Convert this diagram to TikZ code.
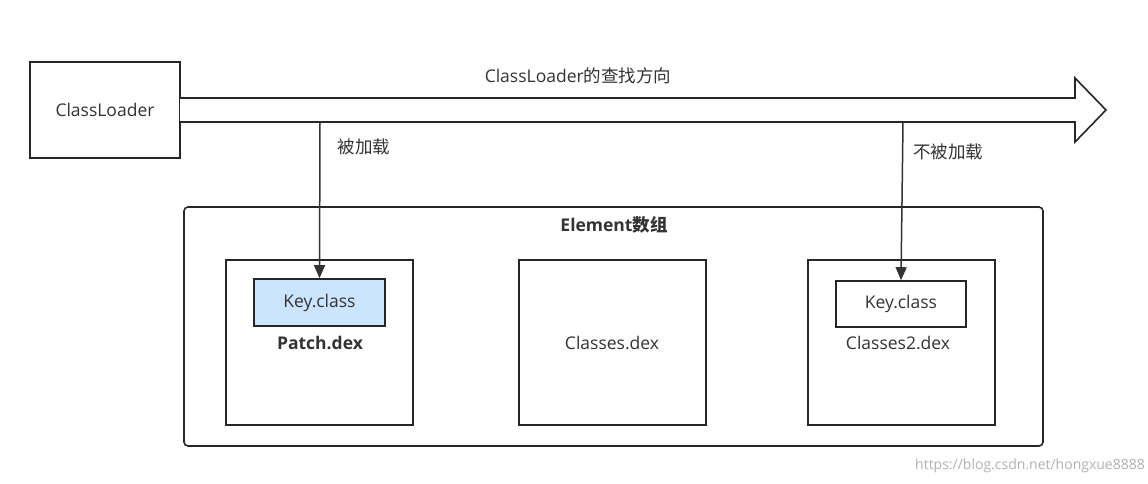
\documentclass[tikz,border=0pt]{standalone}
\usepackage{fontspec}
\setmainfont{Open Sans}
\newfontfamily\cjk{Noto Sans CJK SC}
\usetikzlibrary{arrows.meta}
\definecolor{keyblue}{HTML}{CCE5FF}
\begin{document}
\begin{tikzpicture}[x=1pt,y=-1pt,
  box/.style={draw=black!85,line width=1.6pt,inner sep=0pt},
  lbl/.style={font=\fontsize{17.5}{20}\selectfont,text=black!80},
  conn/.style={draw=black!80,line width=1.5pt,-{Triangle[length=13pt,width=11pt]}}]
\useasboundingbox (0,0) rectangle (1148,484);
\fill[white] (0,0) rectangle (1148,484);
\node[box,minimum width=150pt,minimum height=96pt,lbl] (cl) at (105,110) {ClassLoader};
\draw[black!85,line width=1.6pt,fill=white] (180,98) -- (1075,98) -- (1075,78) -- (1106,110) -- (1075,142) -- (1075,122) -- (180,122);
\coordinate (s1) at (320,122);
\coordinate (s2) at (903,122);
\node[lbl] (dir) at (578,76) {ClassLoader{\cjk 的查找方向}};
\draw[box,rounded corners=4pt] (184,207) rectangle (1043,446);
\node[lbl,font=\fontsize{17.5}{20}\selectfont\bfseries] (el) at (614,225) {Element{\cjk 数组}};
\node[box,minimum width=187pt,minimum height=165pt] (p) at (319.5,342.5) {};
\node[box,minimum width=187pt,minimum height=165pt] (c) at (612.5,342.5) {};
\node[box,minimum width=187pt,minimum height=165pt] (c2) at (901.5,342.5) {};
\node[box,fill=keyblue,minimum width=131pt,minimum height=47pt,lbl] (k1) at (319.5,302.5) {Key.class};
\node[box,minimum width=130pt,minimum height=46pt,lbl] (k2) at (901,304) {Key.class};
\node[lbl,font=\fontsize{17.5}{20}\selectfont\bfseries] (pt) at (320,343) {Patch.dex};
\node[lbl] (ct) at (612,343) {Classes.dex};
\node[lbl] (c2t) at (898,343) {Classes2.dex};
\draw[conn] (s1) -- (k1.north);
\draw[conn] (s2) -- (k2.north);
\node[lbl] (l1) at (364,147) {\cjk 被加载};
\node[lbl] (l2) at (948,152) {\cjk 不被加载};
\node[font=\fontsize{14}{16}\selectfont,text=black!30] (wm) at (1030,466) {https://blog.csdn.net/hongxue8888};
\end{tikzpicture}
\end{document}
